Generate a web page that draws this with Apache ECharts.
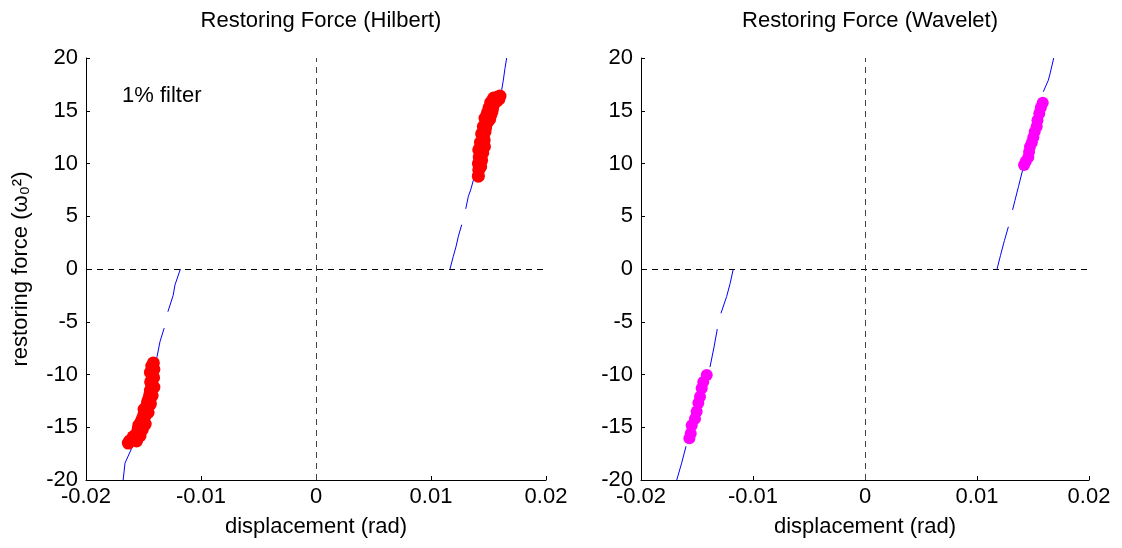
<html>
<head>
<meta charset="utf-8">
<title>Restoring Force</title>
<script src="https://cdn.jsdelivr.net/npm/echarts@6/dist/echarts.min.js"></script>
<style>
  body { margin: 0; background: #fff; }
  #main { width: 1122px; height: 548px; }
</style>
</head>
<body>
<div id="main"></div>
<script type="text/javascript">
// axis ticks
var xTicks = [-0.02, -0.01, 0, 0.01, 0.02];
var yTicks = [-20, -15, -10, -5, 0, 5, 10, 15, 20];

// Hilbert panel: blue curve pieces (gaps between them) and red estimates
var hilbertCurve = [
  [[0.01165, 0], [0.01194, 1.2], [0.01217, 2.1], [0.01238, 3.1], [0.01267, 4.2]],
  [[0.01302, 5.7], [0.01325, 6.9], [0.01345, 7.5], [0.01368, 8.4], [0.0141, 9.5], [0.0152, 13.5], [0.01615, 17.0], [0.01629, 17.9], [0.01643, 19.0], [0.01658, 20]],
  [[-0.01179, 0], [-0.01226, -1.5], [-0.01242, -2.5], [-0.01288, -4.05]],
  [[-0.0132, -5.6], [-0.01357, -6.9], [-0.01382, -8.3], [-0.0141, -9.5], [-0.0152, -13.5], [-0.01603, -17.0], [-0.01661, -18.4], [-0.01677, -20]]
];
var hilbertUpper = [
  [0.01412, 8.8], [0.01415, 9.4], [0.01412, 10.0], [0.0142, 10.6], [0.0144, 10.3], [0.0145, 11.0],
  [0.01415, 11.3], [0.01465, 11.6], [0.0143, 12.0], [0.01455, 12.4], [0.0144, 12.8], [0.0147, 13.0],
  [0.01455, 13.5], [0.0148, 13.8], [0.0147, 14.3], [0.0151, 14.2], [0.0149, 14.8], [0.0153, 14.9],
  [0.01505, 15.3], [0.0154, 15.5], [0.0152, 15.8], [0.0156, 16.0], [0.01545, 16.2], [0.0158, 16.3], [0.016, 16.4],
  [0.01432, 9.7], [0.01438, 11.8], [0.01462, 12.2], [0.01475, 13.4], [0.01495, 14.0], [0.0152, 14.6],
  [0.01535, 15.2], [0.0157, 15.9], [0.0159, 16.1]
];
var hilbertLower = [
  [-0.01414, -8.9], [-0.0141, -9.5], [-0.0144, -9.8], [-0.01412, -10.3], [-0.01438, -10.7], [-0.0141, -11.2],
  [-0.0144, -11.5], [-0.01425, -12.0], [-0.01455, -12.3], [-0.0144, -12.8], [-0.0147, -13.0], [-0.01495, -13.3],
  [-0.0146, -13.6], [-0.0149, -14.0], [-0.01515, -14.3], [-0.01485, -14.7], [-0.0154, -14.8], [-0.0151, -15.2],
  [-0.01555, -15.5], [-0.0153, -15.8], [-0.01575, -16.0], [-0.016, -16.2], [-0.0156, -16.3], [-0.01632, -16.5],
  [-0.01428, -9.2], [-0.01426, -10.0], [-0.01428, -11.0], [-0.01445, -11.9], [-0.01465, -12.6],
  [-0.0148, -13.4], [-0.015, -13.9], [-0.0152, -14.5], [-0.01545, -15.1], [-0.0159, -15.9], [-0.0162, -16.3]
];

// Wavelet panel
var waveletCurve = [
  [[0.01179, 0], [0.0121, 1.3], [0.01245, 2.7], [0.0128, 4.0]],
  [[0.01318, 5.6], [0.01339, 6.5], [0.0137, 7.8], [0.01408, 9.4]],
  [[0.01592, 16.8], [0.01637, 17.9], [0.01652, 18.5], [0.01685, 20]],
  [[-0.01176, 0], [-0.01205, -1.4], [-0.01235, -2.6], [-0.01286, -4.2]],
  [[-0.01319, -5.7], [-0.01348, -7.4], [-0.01384, -9.3]],
  [[-0.01598, -16.8], [-0.01637, -18.4], [-0.01681, -20]]
];
var waveletUpper = [
  [0.0142, 9.86], [0.01435, 10.2], [0.01458, 10.6], [0.01465, 11.1], [0.01473, 11.6], [0.0149, 12.0],
  [0.01503, 12.5], [0.01515, 13.0], [0.01533, 13.5], [0.0154, 14.1], [0.01556, 14.75], [0.0157, 15.3], [0.01587, 15.76]
];
var waveletLower = [
  [-0.01413, -10.05], [-0.01444, -10.7], [-0.01458, -11.3], [-0.01473, -12.1], [-0.01488, -12.7],
  [-0.01503, -13.5], [-0.01518, -14.2], [-0.01547, -14.8], [-0.01556, -15.6], [-0.01568, -16.05]
];

var font = "'Liberation Sans', Arial, Helvetica, sans-serif";

function xAxisOpt(idx) {
  return {
    type: 'value', gridIndex: idx, min: -0.02, max: 0.02, interval: 0.01,
    name: 'displacement (rad)', nameLocation: 'middle', nameGap: 36,
    nameTextStyle: { color: '#000', fontSize: 22, fontFamily: font },
    axisLine: { onZero: false, lineStyle: { color: '#000', width: 1 } },
    axisTick: { inside: true, length: 4, lineStyle: { color: '#000' } },
    axisLabel: {
      color: '#000', fontSize: 22, fontFamily: font, margin: 6,
      formatter: function (v) { return String(+v.toFixed(2)); }
    },
    splitLine: { show: false }
  };
}
function yAxisOpt(idx, withName) {
  return {
    type: 'value', gridIndex: idx, min: -20, max: 20, interval: 5,
    name: withName ? 'restoring force (ω\u2080\u00b2)' : '',
    nameLocation: 'middle', nameGap: 54, nameRotate: 90,
    nameTextStyle: { color: '#000', fontSize: 22, fontFamily: font },
    axisLine: { onZero: false, lineStyle: { color: '#000', width: 1 } },
    axisTick: { inside: true, length: 4, lineStyle: { color: '#000' } },
    axisLabel: { color: '#000', fontSize: 22, fontFamily: font, margin: 8 },
    splitLine: { show: false }
  };
}

var zeroLines = {
  silent: true, symbol: ['none', 'none'], label: { show: false },
  data: [
    { yAxis: 0, lineStyle: { type: [6, 5], color: '#000', width: 1 } },
    { xAxis: 0, lineStyle: { type: [6, 5], color: '#444', width: 1 } }
  ]
};

var series = [];
function addCurve(pieces, idx) {
  pieces.forEach(function (seg, i) {
    series.push({
      type: 'line', xAxisIndex: idx, yAxisIndex: idx, data: seg,
      showSymbol: false, silent: true, animation: false, z: 2,
      lineStyle: { color: '#0000ff', width: 1 },
      markLine: i === 0 ? zeroLines : undefined
    });
  });
}
function addDots(data, idx, color, size) {
  series.push({
    type: 'scatter', xAxisIndex: idx, yAxisIndex: idx, data: data,
    symbolSize: size, animation: false, z: 3,
    itemStyle: { color: color, opacity: 1 }
  });
}
addCurve(hilbertCurve, 0);
addDots(hilbertUpper, 0, '#ff0000', 13);
addDots(hilbertLower, 0, '#ff0000', 13);
addCurve(waveletCurve, 1);
addDots(waveletUpper, 1, '#ff00ff', 12);
addDots(waveletLower, 1, '#ff00ff', 12);

var chart = echarts.init(document.getElementById('main'));
chart.setOption({
  backgroundColor: '#fff',
  animation: false,
  textStyle: { fontFamily: font },
  title: [
    { text: 'Restoring Force (Hilbert)', left: 316, top: 5, textAlign: 'center',
      textStyle: { color: '#000', fontSize: 22, fontWeight: 'normal', fontFamily: font } },
    { text: 'Restoring Force (Wavelet)', left: 865, top: 5, textAlign: 'center',
      textStyle: { color: '#000', fontSize: 22, fontWeight: 'normal', fontFamily: font } }
  ],
  graphic: [
    { type: 'text', left: 122, top: 85,
      style: { text: '1% filter', fill: '#000', fontSize: 22, fontFamily: font } }
  ],
  grid: [
    { left: 86, top: 58, width: 460, height: 422 },
    { left: 641, top: 58, width: 448, height: 422 }
  ],
  xAxis: [xAxisOpt(0), xAxisOpt(1)],
  yAxis: [yAxisOpt(0, true), yAxisOpt(1, false)],
  series: series
});
</script>
</body>
</html>
